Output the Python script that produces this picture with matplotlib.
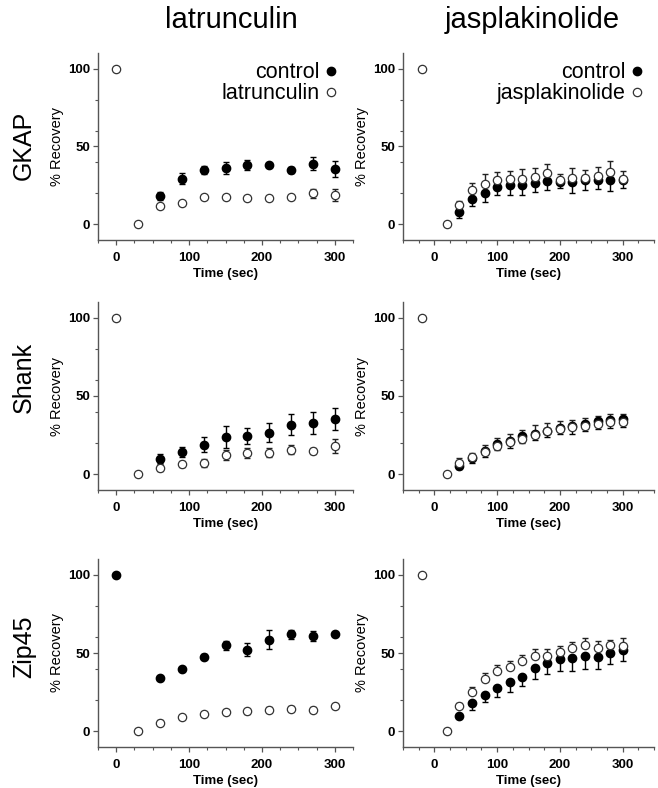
import matplotlib
matplotlib.use("Agg")
import matplotlib.pyplot as plt
from matplotlib.ticker import MultipleLocator, FixedLocator

plt.rcParams['font.family'] = ['Liberation Sans', 'DejaVu Sans']

# --- dane: czasy ---
t_lat = [60, 90, 120, 150, 180, 210, 240, 270, 300]
t_jas = [40, 60, 80, 100, 120, 140, 160, 180, 200, 220, 240, 260, 280, 300]

# GKAP / latrunculin
gkap_lat_ctrl = [18.4, 29.3, 34.7, 36.2, 38.1, 38.3, 34.9, 39.0, 35.5]
gkap_lat_ctrl_err = [2.5, 3.5, 2.5, 4, 3, 1, 2, 4, 5]
gkap_lat_drug = [11.6, 13.7, 17.3, 17.8, 16.7, 16.7, 17.3, 20.0, 18.8]
gkap_lat_drug_err = [1, 1, 1, 1, 1, 1, 1, 3, 4]

# GKAP / jasplakinolide
gkap_jas_ctrl = [8.1, 16.5, 20.1, 24.0, 25.0, 25.0, 26.5, 28.0, 27.2, 27.4, 28.3, 28.7, 28.3, 28.3]
gkap_jas_ctrl_err = [4, 5, 6, 5, 6, 6, 6, 6, 4, 7, 6, 6, 7, 5]
gkap_jas_drug = [12.2, 22.3, 26.1, 28.5, 29.1, 29.3, 30.4, 33.0, 28.3, 30.0, 29.8, 31.0, 33.8, 29.1]
gkap_jas_drug_err = [3, 4, 6, 5, 5, 6, 6, 6, 4, 6, 5, 6, 7, 5]

# Shank / latrunculin
shank_lat_ctrl = [10.0, 14.3, 19.0, 24.1, 24.3, 26.7, 31.8, 32.9, 35.2]
shank_lat_ctrl_err = [3, 3, 5, 7, 5, 6, 7, 7, 7]
shank_lat_drug = [4.3, 6.4, 7.5, 12.4, 13.6, 13.9, 15.8, 14.7, 18.3]
shank_lat_drug_err = [2, 2, 2.5, 3, 3, 3, 3, 2, 4.5]

# Shank / jasplakinolide
shank_jas_ctrl = [5.3, 10.4, 15.1, 19.4, 21.1, 24.3, 25.8, 27.9, 29.6, 30.9, 32.4, 33.9, 34.8, 35.2]
shank_jas_ctrl_err = [2, 3, 4, 4, 4, 4, 4, 4, 4, 5, 5, 5, 5, 5]
shank_jas_drug = [7.5, 10.9, 14.5, 18.1, 20.7, 22.6, 25.4, 27.5, 28.8, 29.9, 31.1, 32.4, 33.7, 33.7]
shank_jas_drug_err = [3, 3, 4, 5, 5, 6, 6, 5, 5, 5, 5, 5, 5, 5]

# Zip45 / latrunculin
zip_lat_ctrl = [34.2, 39.7, 47.6, 54.9, 52.1, 58.5, 62.0, 60.9, 62.0]
zip_lat_ctrl_err = [1, 1.5, 1.5, 3, 4, 6, 3, 3, 1]
zip_lat_drug = [5.6, 9.0, 10.9, 12.4, 12.8, 13.9, 14.5, 13.9, 16.0]
zip_lat_drug_err = [1.5, 1, 1, 1.5, 1.5, 1.5, 1.5, 1.5, 1]

# Zip45 / jasplakinolide
zip_jas_ctrl = [9.8, 17.9, 23.5, 27.6, 31.8, 35.0, 40.4, 43.8, 46.2, 46.8, 48.1, 47.6, 50.2, 51.9]
zip_jas_ctrl_err = [1, 4, 5, 6, 7, 6, 7, 7, 8, 8, 8, 8, 7, 7]
zip_jas_drug = [16.2, 25.0, 33.1, 38.5, 41.2, 44.7, 48.3, 48.3, 50.4, 53.2, 55.3, 53.4, 55.3, 54.5]
zip_jas_drug_err = [2, 3, 4, 4, 4, 4, 4, 4, 4, 4, 4, 4, 3, 5]

# punkty przed/po bleachingu (pre = 100, bleach = 0)
lat_pre_t, lat_bleach_t = 0, 30
jas_pre_t, jas_bleach_t = -20, 20

row_names = ["GKAP", "Shank", "Zip45"]
col_names = ["latrunculin", "jasplakinolide"]

W, H = 658, 788
fig = plt.figure(figsize=(W / 100, H / 100), dpi=100)

# pozycje osi w pikselach (lewo, prawo) i (gora, dol)
cols_px = [(98, 353), (403, 654)]
rows_px = [(53, 240), (302, 490), (559, 747)]
legend_x = [0.935, 0.955]

AX_COL = "#555555"


def rysuj(ax, t, ctrl, ctrl_err, drug, drug_err, pre_t, bleach_t,
          drug_name, pre_filled, jednostronne):
    # slupki bledow
    if jednostronne:
        ax.errorbar(t, ctrl, yerr=[ctrl_err, [0] * len(ctrl_err)], fmt='none',
                    ecolor='black', elinewidth=1, capsize=2.2, capthick=1, zorder=2)
        ax.errorbar(t, drug, yerr=[[0] * len(drug_err), drug_err], fmt='none',
                    ecolor='#222222', elinewidth=1, capsize=2.2, capthick=1, zorder=3)
    else:
        ax.errorbar(t, ctrl, yerr=ctrl_err, fmt='none', ecolor='black',
                    elinewidth=1, capsize=2.2, capthick=1, zorder=2)
        ax.errorbar(t, drug, yerr=drug_err, fmt='none', ecolor='#222222',
                    elinewidth=1, capsize=2.2, capthick=1, zorder=3)
    h1, = ax.plot(t, ctrl, 'o', ms=6, color='black', mec='black', zorder=4,
                  label='control')
    h2, = ax.plot(t, drug, 'o', ms=6, mfc='white', mec='#333333', mew=0.9,
                  zorder=5, label=drug_name)
    # punkt 100% i 0%
    if pre_filled:
        ax.plot([pre_t], [100], 'o', ms=6, color='black', zorder=4)
    else:
        ax.plot([pre_t], [100], 'o', ms=6, mfc='white', mec='#333333', mew=0.9, zorder=5)
    ax.plot([bleach_t], [0], 'o', ms=6, mfc='white', mec='#333333', mew=0.9, zorder=5)
    return h1, h2


dane = [
    [(gkap_lat_ctrl, gkap_lat_ctrl_err, gkap_lat_drug, gkap_lat_drug_err, False),
     (gkap_jas_ctrl, gkap_jas_ctrl_err, gkap_jas_drug, gkap_jas_drug_err, False)],
    [(shank_lat_ctrl, shank_lat_ctrl_err, shank_lat_drug, shank_lat_drug_err, False),
     (shank_jas_ctrl, shank_jas_ctrl_err, shank_jas_drug, shank_jas_drug_err, False)],
    [(zip_lat_ctrl, zip_lat_ctrl_err, zip_lat_drug, zip_lat_drug_err, True),
     (zip_jas_ctrl, zip_jas_ctrl_err, zip_jas_drug, zip_jas_drug_err, False)],
]

for r in range(3):
    top, bot = rows_px[r]
    for c in range(2):
        left, right = cols_px[c]
        ax = fig.add_axes([left / W, 1 - bot / H, (right - left) / W, (bot - top) / H])
        ctrl, ctrl_err, drug, drug_err, pre_filled = dane[r][c]
        if c == 0:
            h1, h2 = rysuj(ax, t_lat, ctrl, ctrl_err, drug, drug_err,
                           lat_pre_t, lat_bleach_t, col_names[c], pre_filled, False)
            ax.set_xlim(-25, 325)
        else:
            h1, h2 = rysuj(ax, t_jas, ctrl, ctrl_err, drug, drug_err,
                           jas_pre_t, jas_bleach_t, col_names[c], pre_filled, True)
            ax.set_xlim(-50, 350)
        ax.set_ylim(-10, 110)

        for s in ['top', 'right']:
            ax.spines[s].set_visible(False)
        for s in ['left', 'bottom']:
            ax.spines[s].set_color(AX_COL)
            ax.spines[s].set_linewidth(1)

        ax.xaxis.set_major_locator(FixedLocator([0, 100, 200, 300]))
        ax.xaxis.set_minor_locator(MultipleLocator(25))
        ax.yaxis.set_major_locator(FixedLocator([0, 50, 100]))
        ax.yaxis.set_minor_locator(FixedLocator([20, 40, 60, 80]))
        ax.tick_params(which='major', direction='out', length=3.5, width=0.9,
                       color=AX_COL, labelsize=9.5, pad=2)
        ax.tick_params(axis='x', which='major', pad=5)
        ax.tick_params(which='minor', direction='out', length=2, width=0.8, color=AX_COL)
        for lab in ax.get_xticklabels() + ax.get_yticklabels():
            lab.set_fontweight('bold')

        ax.set_xlabel("Time (sec)", fontsize=9.5, fontweight='bold', labelpad=3)
        ax.set_ylabel("% Recovery", fontsize=10.5, labelpad=3)

        if r == 0:
            ax.legend(handles=[h1, h2], loc='upper right', bbox_to_anchor=(legend_x[c], 0.95),
                      frameon=False, markerfirst=False, fontsize=15.5,
                      handlelength=0.5, handletextpad=0.3, labelspacing=0.0,
                      borderaxespad=0, borderpad=0)

# tytuly kolumn
col_x = [231, 532]
for c in range(2):
    fig.text(col_x[c] / W, 1 - 20 / H, col_names[c], fontsize=21, ha='center', va='center')

# nazwy wierszy
row_y = [145, 377, 647]
for r in range(3):
    fig.text(24 / W, 1 - row_y[r] / H, row_names[r], fontsize=18, rotation=90,
             ha='center', va='center')

fig.savefig("out.png", dpi=100)
